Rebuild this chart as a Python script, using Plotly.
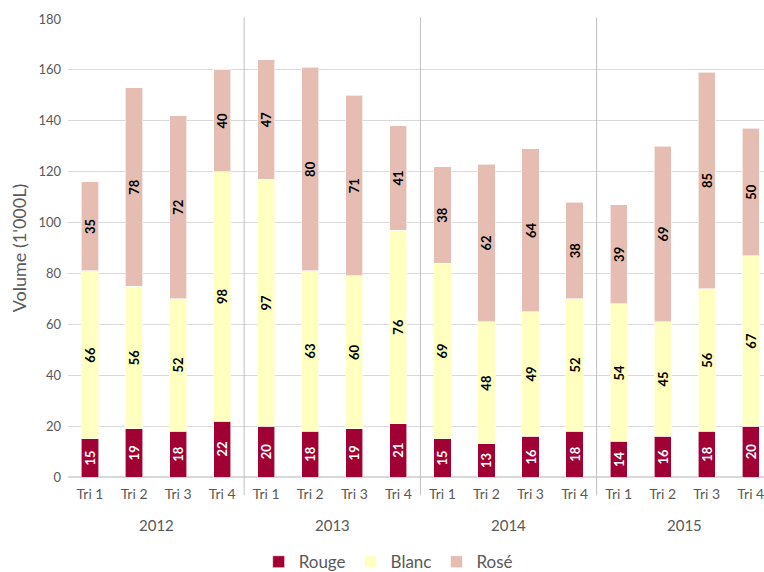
import plotly.graph_objects as go

year_labels = ["2012", "2013", "2014", "2015"]
quarters = ["Tri 1", "Tri 2", "Tri 3", "Tri 4"] * 4
rouge = [15, 19, 18, 22, 20, 18, 19, 21, 15, 13, 16, 18, 14, 16, 18, 20]
blanc = [66, 56, 52, 98, 97, 63, 60, 76, 69, 48, 49, 52, 54, 45, 56, 67]
rose = [35, 78, 72, 40, 47, 80, 71, 41, 38, 62, 64, 38, 39, 69, 85, 50]
y_ticks = [0, 20, 40, 60, 80, 100, 120, 140, 160, 180]

FONT = "Lato"
GREY = "#595959"
x = list(range(len(quarters)))

series = [
    ("Rouge", rouge, "#A00034", "white"),
    ("Blanc", blanc, "#FFFFC0", "black"),
    ("Rosé", rose, "#E5BDB2", "black"),
]

fig = go.Figure()
for name, vals, color, tcolor in series:
    fig.add_trace(go.Bar(
        x=x, y=vals, name=name,
        marker=dict(color=color, line=dict(color="rgba(255,255,255,0.6)", width=1)),
        text=[str(v) for v in vals],
        textposition="inside",
        insidetextanchor="middle",
        textangle=-90,
        textfont=dict(family=FONT, size=13, color=tcolor, weight="bold"),
    ))

n_per_year = 4
for k, yl in enumerate(year_labels):
    # year label centred under its quarters
    fig.add_annotation(x=k * n_per_year + (n_per_year - 1) / 2, xref="x",
                       y=-0.105, yref="paper", text=yl, showarrow=False,
                       yanchor="middle", font=dict(family=FONT, size=15, color=GREY))
    if k > 0:
        sep = k * n_per_year - 0.5
        fig.add_shape(type="line", xref="x", yref="paper", x0=sep, x1=sep,
                      y0=-0.04, y1=1.004, line=dict(color="#BFBFBF", width=1))

fig.update_layout(
    barmode="stack",
    bargap=0.61,
    width=764, height=572,
    margin=dict(l=68, r=0, t=19, b=95, autoexpand=False),
    paper_bgcolor="white", plot_bgcolor="white",
    font=dict(family=FONT, color=GREY),
    showlegend=True,
    legend=dict(orientation="h", x=0.46, xanchor="center",
                y=-0.186, yanchor="middle", font=dict(size=17, color=GREY),
                traceorder="normal", itemwidth=30),
    uniformtext=dict(minsize=13, mode="show"),
)
fig.update_xaxes(
    range=[-0.5, 15.3], tickvals=x, ticktext=quarters,
    tickfont=dict(size=14, color=GREY), showgrid=False, showline=False,
    zeroline=False, ticks="", tickangle=0, ticklabelstandoff=7,
    ticklabeloverflow="allow",
)
fig.update_yaxes(
    range=[0, 180], tickvals=y_ticks, showgrid=True, gridcolor="#D9D9D9", gridwidth=1,
    zeroline=True, zerolinecolor="#D9D9D9", showline=False,
    tickfont=dict(size=13, color=GREY), ticklabelstandoff=6,
    title=dict(text="Volume (1'000L)", font=dict(size=18, color=GREY), standoff=7),
)

fig.write_html("out.html", post_script="document.body.style.margin='0';",
               config={"displayModeBar": False})
